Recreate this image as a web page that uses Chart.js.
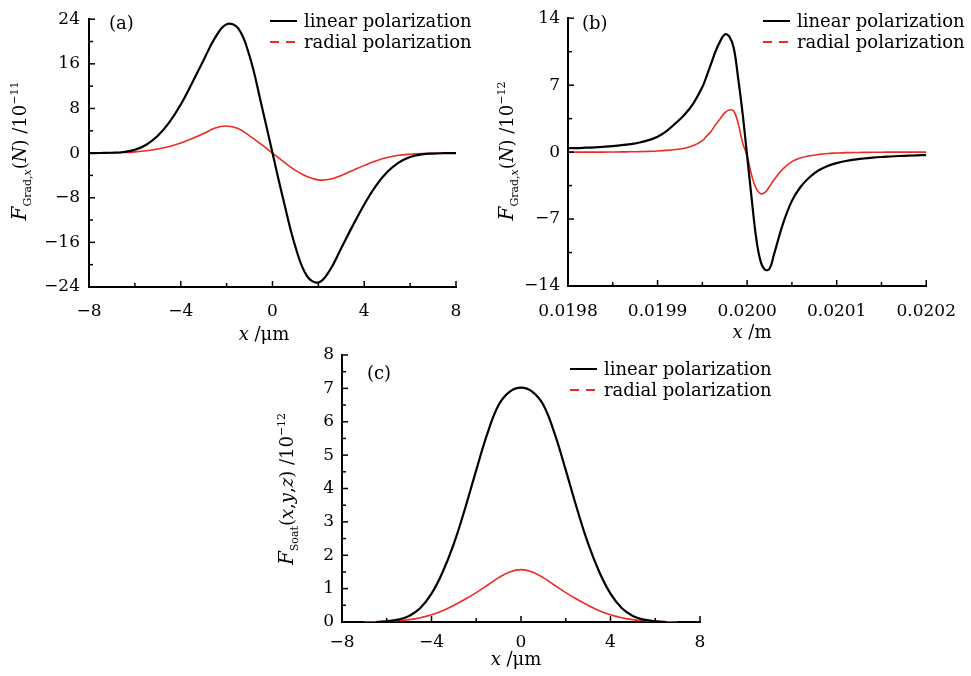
<!DOCTYPE html>
<html>
<head>
<meta charset="utf-8">
<script src="https://cdn.jsdelivr.net/npm/chart.js@4.4.0/dist/chart.umd.min.js"></script>
<style>
  html, body { margin: 0; padding: 0; background: #fff; }
  body { width: 971px; height: 676px; position: relative; overflow: hidden; }
  canvas { position: absolute; }
</style>
</head>
<body>
<canvas id="ga" width="485" height="345" style="left:0;top:0"></canvas>
<canvas id="gb" width="491" height="345" style="left:480px;top:0"></canvas>
<canvas id="gc" width="540" height="346" style="left:250px;top:330px"></canvas>
<script>
// (a) gradient force vs x (um), units 1e-11 N
const xA = [-8, -7.5, -7, -6.5, -6, -5.5, -5, -4.5, -4, -3.5, -3, -2.5, -2, -1.5, -1, -0.5, 0,
  0.5, 1, 1.5, 2, 2.5, 3, 3.5, 4, 4.5, 5, 5.5, 6, 6.5, 7, 7.5, 8];
const linA = [0, 0.02, 0.06, 0.2, 0.6, 1.5, 3.1, 5.5, 8.7, 12.6, 16.7, 20.7, 23.1, 22.4, 17.4, 9.0, 0,
  -8.8, -16.8, -22.0, -23.2, -21.0, -17.0, -13.0, -9.2, -5.9, -3.4, -1.7, -0.7, -0.25, -0.08, -0.02, 0];
const radA = [0, 0.02, 0.05, 0.1, 0.22, 0.42, 0.75, 1.2, 1.8, 2.6, 3.5, 4.5, 4.85, 4.4, 3.1, 1.6, 0,
  -1.6, -3.1, -4.2, -4.8, -4.7, -4.0, -3.1, -2.2, -1.4, -0.8, -0.4, -0.2, -0.08, -0.03, -0.01, 0];
const xTicksA = [-8, -4, 0, 4, 8];
const yTicksA = [-24, -16, -8, 0, 8, 16, 24];

// (b) gradient force vs x (m), units 1e-12 N
const xB = [0.0198, 0.01981, 0.01982, 0.01983, 0.01984, 0.01985, 0.01986, 0.01987, 0.01988, 0.01989,
  0.0199, 0.01991, 0.01992, 0.01993, 0.01994, 0.01995, 0.019955, 0.01996, 0.019965, 0.01997,
  0.019975, 0.01998, 0.019985, 0.01999, 0.019995, 0.02, 0.020005, 0.02001, 0.020015, 0.02002,
  0.020025, 0.02003, 0.02004, 0.02005, 0.02006, 0.02007, 0.02008, 0.02009, 0.0201, 0.02011,
  0.02012, 0.02013, 0.02014, 0.02015, 0.02016, 0.02017, 0.02018, 0.02019, 0.0202];
const linB = [0.4, 0.42, 0.46, 0.5, 0.56, 0.63, 0.72, 0.84, 1.0, 1.25,
  1.6, 2.2, 3.0, 3.9, 5.1, 6.8, 8.0, 9.3, 10.6, 11.6,
  12.3, 12.1, 10.9, 7.7, 4.0, -0.4, -4.8, -8.9, -11.4, -12.3,
  -12.2, -10.7, -7.5, -5.1, -3.6, -2.6, -1.9, -1.45, -1.15, -0.93,
  -0.78, -0.67, -0.58, -0.51, -0.46, -0.41, -0.37, -0.34, -0.31];
const radB = [0, 0, 0, 0, 0, 0.01, 0.02, 0.03, 0.05, 0.08,
  0.12, 0.18, 0.27, 0.4, 0.68, 1.2, 1.7, 2.2, 2.9, 3.5,
  4.1, 4.4, 4.3, 3.0, 0.95, -0.4, -2.4, -3.8, -4.35, -4.2,
  -3.6, -2.9, -1.75, -1.0, -0.6, -0.38, -0.24, -0.15, -0.1, -0.06,
  -0.04, -0.03, -0.02, -0.01, 0, 0, 0, 0, 0];
const xTicksB = [0.0198, 0.0199, 0.02, 0.0201, 0.0202];
const yTicksB = [-14, -7, 0, 7, 14];

// (c) scattering force vs x (um), units 1e-12 N
const xLinC = [-6.5, -6, -5.5, -5, -4.5, -4, -3.5, -3, -2.5, -2, -1.5, -1, -0.5, 0,
  0.5, 1, 1.5, 2, 2.5, 3, 3.5, 4, 4.5, 5, 5.5, 6, 6.5];
const linC = [0, 0.02, 0.07, 0.18, 0.42, 0.85, 1.5, 2.35, 3.4, 4.55, 5.65, 6.5, 6.9, 7.02,
  6.9, 6.5, 5.65, 4.55, 3.4, 2.35, 1.5, 0.85, 0.42, 0.18, 0.07, 0.02, 0];
const xRadC = [-7, -6.5, -6, -5.5, -5, -4.5, -4, -3.5, -3, -2.5, -2, -1.5, -1, -0.5, 0,
  0.5, 1, 1.5, 2, 2.5, 3, 3.5, 4, 4.5, 5, 5.5, 6, 6.5, 7];
const radC = [0, 0.005, 0.02, 0.04, 0.07, 0.13, 0.22, 0.34, 0.5, 0.68, 0.88, 1.1, 1.33, 1.5, 1.57,
  1.5, 1.33, 1.1, 0.88, 0.68, 0.5, 0.34, 0.22, 0.13, 0.07, 0.04, 0.02, 0.005, 0];
const xTicksC = [-8, -4, 0, 4, 8];
const yTicksC = [0, 1, 2, 3, 4, 5, 6, 7, 8];

const SERIF = '"DejaVu Serif", serif';
const f = (size, italic) => (italic ? 'italic ' : '') + size + 'px ' + SERIF;
const minus = v => (v < 0 ? '\u2212' + (-v) : String(v));
const pts = (xs, ys) => xs.map((x, i) => ({ x: x, y: ys[i] }));

// text with sub/superscripts, centred on (x, y) baseline
function drawRich(ctx, parts, x, y, angle) {
  ctx.save();
  ctx.translate(x, y);
  ctx.rotate(angle);
  ctx.textAlign = 'left';
  ctx.textBaseline = 'alphabetic';
  let w = 0;
  parts.forEach(p => { ctx.font = p.font; w += ctx.measureText(p.t).width; });
  let cx = -w / 2;
  parts.forEach(p => {
    ctx.font = p.font;
    ctx.fillText(p.t, cx, p.dy || 0);
    cx += ctx.measureText(p.t).width;
  });
  ctx.restore();
}

function mark(ctx, sc, a, v, len) {
  const p = sc.getPixelForValue(v);
  ctx.beginPath();
  if (sc.isHorizontal()) { ctx.moveTo(p, a.bottom); ctx.lineTo(p, a.bottom - len); }
  else { ctx.moveTo(a.left, p); ctx.lineTo(a.left + len, p); }
  ctx.stroke();
}

// inner ticks, panel letter, legend and axis titles
const decor = {
  id: 'decor',
  afterDraw(chart, args, o) {
    const ctx = chart.ctx, a = chart.chartArea;
    ctx.save();
    ctx.strokeStyle = '#000';
    ctx.lineWidth = 1.5;
    Object.values(chart.scales).forEach(sc => {
      const vals = sc.ticks.map(t => t.value);
      vals.forEach((v, i) => {
        mark(ctx, sc, a, v, 6);
        if (i > 0) mark(ctx, sc, a, (v + vals[i - 1]) / 2, 4);
      });
    });
    ctx.fillStyle = '#000';
    ctx.textAlign = 'left';
    ctx.textBaseline = 'alphabetic';
    ctx.font = f(18);
    ctx.fillText(o.panel, o.panelX, o.panelY);
    chart.data.datasets.forEach((ds, i) => {
      const y = o.legendY + i * 21;
      ctx.beginPath();
      ctx.strokeStyle = ds.borderColor;
      ctx.lineWidth = 2;
      ctx.setLineDash(i ? [9, 7] : []);
      ctx.moveTo(o.legendX, y);
      ctx.lineTo(o.legendX + 27, y);
      ctx.stroke();
      ctx.setLineDash([]);
      ctx.font = f(18);
      ctx.fillText(ds.label, o.legendX + 34, y + 6);
    });
    drawRich(ctx, o.yTitle, o.yTitleX, o.yTitleY, -Math.PI / 2);
    drawRich(ctx, o.xTitle, o.xTitleX, o.xTitleY, 0);
    ctx.restore();
  }
};

function axis(ticks, width, height, pad, fmt) {
  const s = {
    type: 'linear',
    min: ticks[0],
    max: ticks[ticks.length - 1],
    afterBuildTicks: sc => { sc.ticks = ticks.map(v => ({ value: v })); },
    grid: { display: false, drawTicks: false },
    border: { display: true, color: '#000', width: 2 },
    ticks: { color: '#000', font: { family: SERIF, size: 17 }, padding: pad,
      callback: fmt, autoSkip: false, maxRotation: 0 }
  };
  if (width) s.afterFit = sc => { sc.width = width; };
  if (height) s.afterFit = sc => { sc.height = height; };
  return s;
}

function build(id, d) {
  return new Chart(document.getElementById(id), {
    type: 'line',
    data: {
      datasets: [
        { label: 'linear polarization', data: d.lin, borderColor: '#000', borderWidth: 2.2 },
        { label: 'radial polarization', data: d.rad, borderColor: '#ee2a24', borderWidth: 1.6 }
      ]
    },
    options: {
      responsive: false,
      animation: false,
      events: [],
      layout: { autoPadding: false, padding: d.pad },
      elements: { point: { radius: 0 }, line: { tension: 0.4, fill: false } },
      scales: {
        x: axis(d.xTicks, 0, d.xH, d.xPad, d.xFmt || minus),
        y: axis(d.yTicks, d.yW, 0, d.yPad, minus)
      },
      plugins: { legend: { display: false }, tooltip: { enabled: false }, decor: d.decor }
    },
    plugins: [decor]
  });
}

const gradTitle = pow => [
  { t: 'F', font: f(20, true) },
  { t: 'Grad,', font: f(11), dy: 5 },
  { t: 'x', font: f(11, true), dy: 5 },
  { t: '(', font: f(18) },
  { t: 'N', font: f(18, true) },
  { t: ') /10', font: f(18) },
  { t: pow, font: f(11), dy: -8 }
];
const umTitle = [{ t: 'x', font: f(18, true) }, { t: ' /\u03bcm', font: f(18) }];

build('ga', {
  lin: pts(xA, linA), rad: pts(xA, radA),
  xTicks: xTicksA, yTicks: yTicksA,
  pad: { left: 0, top: 12, right: 29, bottom: 0 }, yW: 89, xH: 58, xPad: 14, yPad: 9,
  decor: { panel: '(a)', panelX: 109, panelY: 29, legendX: 270, legendY: 21,
    yTitle: gradTitle('\u221211'), yTitleX: 25.5, yTitleY: 151,
    xTitle: umTitle, xTitleX: 264, xTitleY: 340 }
});

build('gb', {
  lin: pts(xB, linB), rad: pts(xB, radB),
  xTicks: xTicksB, yTicks: yTicksB, xFmt: v => v.toFixed(4),
  pad: { left: 0, top: 9, right: 35, bottom: 0 }, yW: 88, xH: 59, xPad: 15, yPad: 8,
  decor: { panel: '(b)', panelX: 102, panelY: 29, legendX: 283, legendY: 21,
    yTitle: gradTitle('\u221212'), yTitleX: 33, yTitleY: 151,
    xTitle: [{ t: 'x', font: f(18, true) }, { t: ' /m', font: f(18) }], xTitleX: 272, xTitleY: 338 }
});

build('gc', {
  lin: pts(xLinC, linC), rad: pts(xRadC, radC),
  xTicks: xTicksC, yTicks: yTicksC,
  pad: { left: 0, top: 25, right: 90, bottom: 0 }, yW: 92, xH: 54, xPad: 10, yPad: 8,
  decor: { panel: '(c)', panelX: 117, panelY: 49, legendX: 320, legendY: 39,
    yTitle: [
      { t: 'F', font: f(20, true) },
      { t: 'Soat', font: f(11), dy: 5 },
      { t: '(', font: f(18) },
      { t: 'x', font: f(18, true) },
      { t: ',', font: f(18) },
      { t: 'y', font: f(18, true) },
      { t: ',', font: f(18) },
      { t: 'z', font: f(18, true) },
      { t: ') /10', font: f(18) },
      { t: '\u221212', font: f(11), dy: -8 }
    ], yTitleX: 43, yTitleY: 159,
    xTitle: umTitle, xTitleX: 266, xTitleY: 335 }
});
</script>
</body>
</html>
